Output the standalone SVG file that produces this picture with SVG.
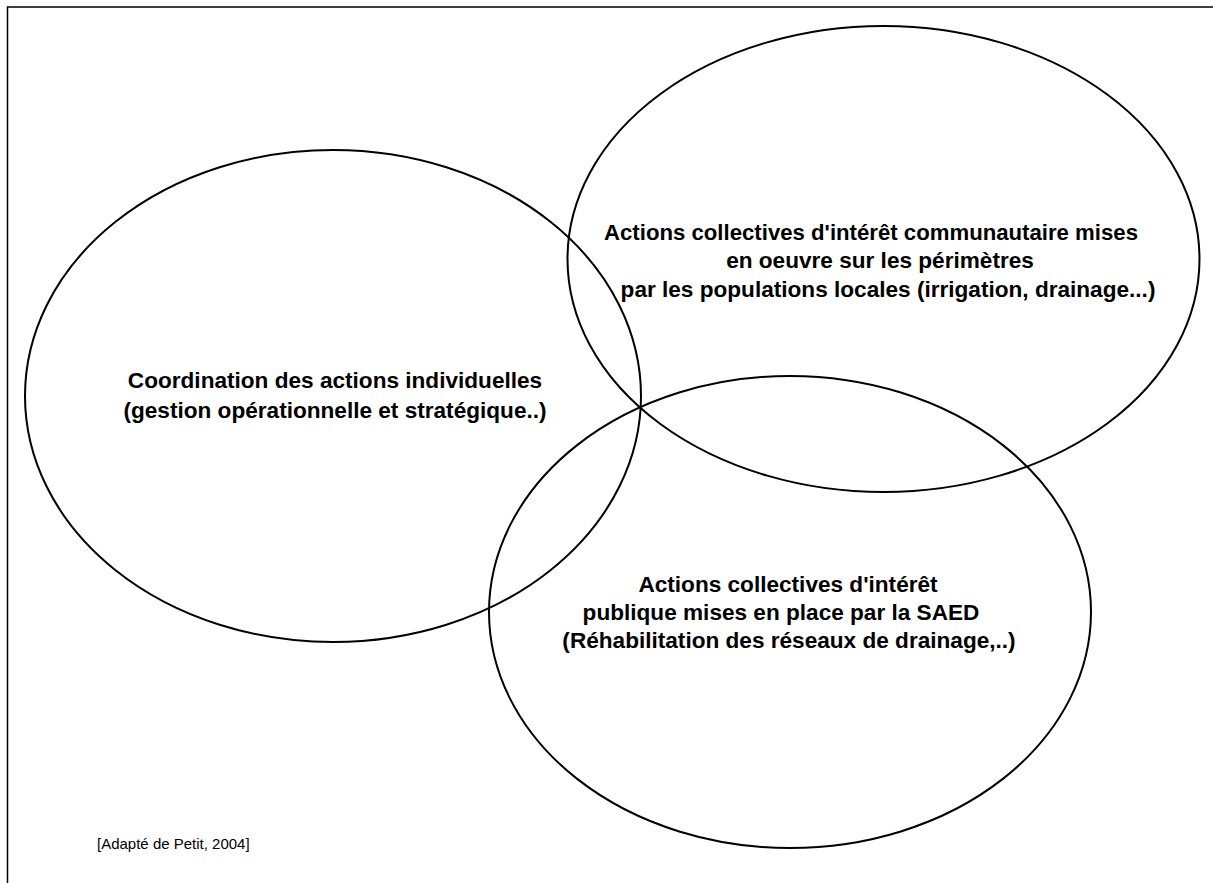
<svg xmlns="http://www.w3.org/2000/svg" width="1213" height="883" viewBox="0 0 1213 883">
<style>
.e{fill:none;stroke:#000;stroke-width:2}
.t{font-family:"Liberation Sans",Arial,sans-serif;font-weight:bold;font-size:22.6px;fill:#000}
.c{font-family:"Liberation Sans",Arial,sans-serif;font-size:15px;fill:#000}
</style>
<rect width="1213" height="883" fill="#fff"/>
<path d="M7.5,883 V7 H1213" fill="none" stroke="#000" stroke-width="1.5"/>
<g id="node-left">
<ellipse class="e" cx="333" cy="396" rx="308" ry="246"/>
<text class="t" x="335" y="388" text-anchor="middle">Coordination des actions individuelles</text>
<text class="t" x="335" y="418" text-anchor="middle">(gestion opérationnelle et stratégique..)</text>
</g>
<g id="node-upper">
<ellipse class="e" cx="883.5" cy="259" rx="316" ry="233"/>
<text class="t" x="871" y="240" text-anchor="middle" textLength="534" lengthAdjust="spacingAndGlyphs">Actions collectives d'intérêt communautaire mises</text>
<text class="t" x="880" y="268" text-anchor="middle">en oeuvre sur les périmètres</text>
<text class="t" x="888" y="297" text-anchor="middle">par les populations locales (irrigation, drainage...)</text>
</g>
<g id="node-lower">
<ellipse class="e" cx="790" cy="612" rx="301" ry="236"/>
<text class="t" x="788" y="592" text-anchor="middle">Actions collectives d'intérêt</text>
<text class="t" x="781" y="620" text-anchor="middle">publique mises en place par la SAED</text>
<text class="t" x="789" y="648" text-anchor="middle">(Réhabilitation des réseaux de drainage,..)</text>
</g>
<g id="connectors"></g>
<text class="c" x="97" y="849">[Adapté de Petit, 2004]</text>
</svg>
